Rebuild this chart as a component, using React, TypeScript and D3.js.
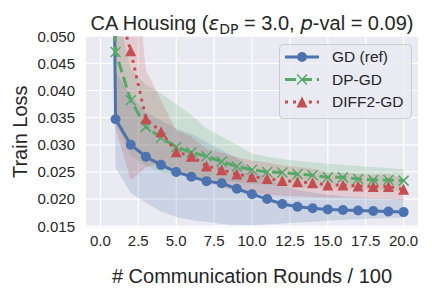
import React from "react";
import * as d3 from "d3";

const rounds = [0, 1, 2, 3, 4, 5, 6, 7, 8, 9, 10, 11, 12, 13, 14, 15, 16, 17, 18, 19, 20];

const gdMean = [0.30, 0.0347, 0.0300, 0.0278, 0.0263, 0.0250, 0.0241, 0.0233, 0.0229, 0.0219, 0.0209, 0.0200, 0.0191, 0.0186, 0.0183, 0.0181, 0.0180, 0.0179, 0.0178, 0.0177, 0.0176];
const gdLow = [0.25, 0.0257, 0.0211, 0.0193, 0.0177, 0.0167, 0.0161, 0.0158, 0.0154, 0.0152, 0.0152, 0.0153, 0.0155, 0.0157, 0.0158, 0.0160, 0.0162, 0.0163, 0.0164, 0.0165, 0.0166];
const gdHigh = [0.35, 0.0435, 0.0390, 0.0360, 0.0345, 0.0330, 0.0320, 0.0305, 0.0290, 0.0275, 0.0255, 0.0238, 0.0225, 0.0217, 0.0212, 0.0208, 0.0205, 0.0203, 0.0202, 0.0201, 0.0200];

const dpMean = [0.30, 0.0471, 0.0382, 0.0333, 0.0313, 0.0296, 0.0286, 0.0279, 0.0269, 0.0260, 0.0254, 0.0250, 0.0249, 0.0246, 0.0244, 0.0240, 0.0240, 0.0237, 0.0235, 0.0235, 0.0234];
const dpLow = [0.25, 0.0340, 0.0280, 0.0262, 0.0250, 0.0245, 0.0241, 0.0238, 0.0234, 0.0231, 0.0228, 0.0226, 0.0224, 0.0222, 0.0221, 0.0220, 0.0219, 0.0218, 0.0217, 0.0216, 0.0215];
const dpHigh = [0.35, 0.0560, 0.0440, 0.0410, 0.0395, 0.0375, 0.0355, 0.0330, 0.0315, 0.0300, 0.0284, 0.0278, 0.0274, 0.0270, 0.0268, 0.0265, 0.0263, 0.0261, 0.0259, 0.0257, 0.0255];

const diffMean = [0.30, 0.0570, 0.0473, 0.0348, 0.0324, 0.0287, 0.0279, 0.0261, 0.0254, 0.0246, 0.0241, 0.0238, 0.0234, 0.0232, 0.0230, 0.0226, 0.0226, 0.0224, 0.0223, 0.0223, 0.0218];
const diffLow = [0.25, 0.0330, 0.0235, 0.0258, 0.0266, 0.0247, 0.0243, 0.0230, 0.0222, 0.0215, 0.0211, 0.0208, 0.0206, 0.0205, 0.0204, 0.0203, 0.0203, 0.0202, 0.0201, 0.0200, 0.0198];
const diffHigh = [0.35, 0.0810, 0.0710, 0.0438, 0.0382, 0.0327, 0.0315, 0.0292, 0.0286, 0.0277, 0.0271, 0.0268, 0.0262, 0.0259, 0.0256, 0.0249, 0.0249, 0.0246, 0.0245, 0.0246, 0.0238];

const xTicks = [0, 2.5, 5, 7.5, 10, 12.5, 15, 17.5, 20];
const yTicks = [0.015, 0.02, 0.025, 0.03, 0.035, 0.04, 0.045, 0.05];
const seriesNames = ["GD (ref)", "DP-GD", "DIFF2-GD"];

const W = 432, H = 288;
const L = 86, R = 418, T = 36.2, B = 227.3;
const FONT = "'Liberation Sans', Arial, sans-serif";
const TXT = "#262626";

const x = d3.scaleLinear().domain([-0.95, 20.95]).range([L, R]);
const y = d3.scaleLinear().domain([0.0148, 0.05]).range([B, T]);

const series = [
  { name: seriesNames[0], mean: gdMean, low: gdLow, high: gdHigh, color: "#4C72B0", dash: "none", marker: "o" },
  { name: seriesNames[1], mean: dpMean, low: dpLow, high: dpHigh, color: "#55A868", dash: "11.1 4.8", marker: "x" },
  { name: seriesNames[2], mean: diffMean, low: diffLow, high: diffHigh, color: "#C44E52", dash: "3 4.95", marker: "^" },
];

function Marker({ type, cx, cy, color }: { type: string; cx: number; cy: number; color: string }) {
  if (type === "o") return <circle cx={cx} cy={cy} r={5} fill={color} />;
  if (type === "x") {
    const h = 5;
    return (
      <path d={`M${cx - h},${cy - h}L${cx + h},${cy + h}M${cx - h},${cy + h}L${cx + h},${cy - h}`} stroke={color} strokeWidth={1.5} fill="none" />
    );
  }
  const h = 5.5;
  return <path d={`M${cx},${cy - h}L${cx - h},${cy + h}L${cx + h},${cy + h}Z`} fill={color} />;
}

export default function App() {
  const idx = rounds.map((_, i) => i);
  const line = (arr: number[]) =>
    d3.line<number>().x((i) => x(rounds[i])).y((i) => y(arr[i]))(idx) || "";
  const area = (lo: number[], hi: number[]) =>
    d3.area<number>().x((i) => x(rounds[i])).y0((i) => y(lo[i])).y1((i) => y(hi[i]))(idx) || "";

  const legX = 279.5, legY = 44.5, legW = 132, legH = 74;
  const rowY = [57, 79.5, 102];

  return (
    <svg width={W} height={H} style={{ position: "absolute", left: 0, top: 0, background: "#fff" }} fontFamily={FONT}>
      <defs>
        <clipPath id="plotclip">
          <rect x={L} y={T} width={R - L} height={B - T} />
        </clipPath>
      </defs>
      <rect x={L} y={T} width={R - L} height={B - T} fill="#EAEAF2" />
      {xTicks.map((t) => (
        <line key={"gx" + t} x1={x(t)} x2={x(t)} y1={T} y2={B} stroke="#fff" strokeWidth={1.2} />
      ))}
      {yTicks.map((t) => (
        <line key={"gy" + t} x1={L} x2={R} y1={y(t)} y2={y(t)} stroke="#fff" strokeWidth={1.2} />
      ))}
      <g clipPath="url(#plotclip)">
        {series.map((s) => (
          <path key={"band" + s.name} d={area(s.low, s.high)} fill={s.color} fillOpacity={0.2} stroke="none" />
        ))}
        {series.map((s) => (
          <g key={"ser" + s.name}>
            <path d={line(s.mean)} fill="none" stroke={s.color} strokeWidth={3} strokeDasharray={s.dash} strokeLinecap="butt" />
            {idx.slice(1).map((i) => (
              <Marker key={i} type={s.marker} cx={x(rounds[i])} cy={y(s.mean[i])} color={s.color} />
            ))}
          </g>
        ))}
      </g>
      {xTicks.map((t) => (
        <text key={"xt" + t} x={x(t)} y={246} textAnchor="middle" fontSize={15} fill={TXT}>
          {t.toFixed(1)}
        </text>
      ))}
      {yTicks.map((t) => (
        <text key={"yt" + t} x={75} y={y(t) + 5.3} textAnchor="end" fontSize={15} fill={TXT}>
          {t.toFixed(3)}
        </text>
      ))}
      <text x={(L + R) / 2} y={283} textAnchor="middle" fontSize={20} fill={TXT}>
        # Communication Rounds / 100
      </text>
      <text transform={`translate(26.5,${(T + B) / 2}) rotate(-90)`} textAnchor="middle" fontSize={20} fill={TXT}>
        Train Loss
      </text>
      <text x={(L + R) / 2} y={30} textAnchor="middle" fontSize={20} fill={TXT} style={{ whiteSpace: "pre" }}>
        <tspan>CA Housing (</tspan>
        <tspan fontFamily="'DejaVu Sans'" fontStyle="italic">ε</tspan>
        <tspan fontFamily="'DejaVu Sans'" fontSize={14} dy={4}>DP</tspan>
        <tspan dy={-4}> = 3.0, </tspan>
        <tspan fontFamily="'DejaVu Sans'" fontStyle="italic">p</tspan>
        <tspan>-val = 0.09)</tspan>
      </text>
      <rect x={legX} y={legY} width={legW} height={legH} rx={4} fill="#EAEAF2" fillOpacity={0.8} stroke="#CCCCCC" strokeWidth={1} />
      {series.map((s, k) => (
        <g key={"leg" + s.name}>
          <line x1={285} x2={319} y1={rowY[k]} y2={rowY[k]} stroke={s.color} strokeWidth={3} strokeDasharray={s.dash} />
          <Marker type={s.marker} cx={302} cy={rowY[k]} color={s.color} />
          <text x={332} y={rowY[k] + 5.4} fontSize={15.5} fill={TXT}>
            {s.name}
          </text>
        </g>
      ))}
    </svg>
  );
}
